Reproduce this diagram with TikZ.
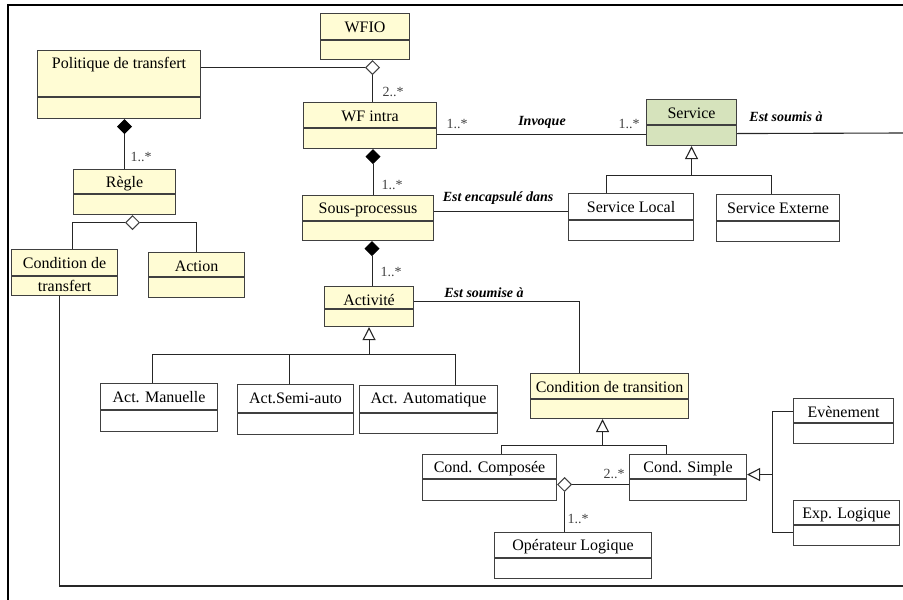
\documentclass[tikz,border=0pt]{standalone}
\usepackage{fontspec}
\setmainfont{Liberation Serif}
\usetikzlibrary{arrows.meta,shapes.geometric}
\definecolor{jaune}{RGB}{255,252,212}
\definecolor{vert}{RGB}{214,227,188}
\definecolor{trait}{RGB}{64,64,64}

\begin{document}
\begin{tikzpicture}[x=1pt,y=-1pt]
\tikzstyle{boite}=[draw=trait, line width=1.1pt, inner sep=0pt]
\tikzstyle{nom}=[font=\fontsize{16}{18}\selectfont, inner sep=1pt]
\tikzstyle{role}=[font=\fontsize{14}{16}\selectfont\bfseries\itshape, inner sep=1pt]
\tikzstyle{mult}=[font=\fontsize{14}{15}\selectfont, text=black!75, inner sep=1pt]
\tikzstyle{lien}=[draw=black!85, line width=1.1pt]
\tikzstyle{gen}=[lien, -{Triangle[open, length=13pt, width=13pt]}]
\tikzstyle{losange}=[diamond, draw=trait, line width=1pt, fill=white, minimum width=14pt, minimum height=14pt, inner sep=0pt]
\tikzstyle{losangeplein}=[losange, fill=black, draw=black]
\useasboundingbox (0,0) rectangle (903,600);
\draw[line width=2pt] (8,600) -- (8,5) -- (903,5);
% classes
\foreach \n/\x/\y/\w/\h/\dv/\col/\txt in {
	wfio/320/13/89/46/27/jaune/WFIO,
	politique/37/50/163/68/47/jaune/Politique de transfert,
	wfintra/303/102/133/46/26/jaune/WF intra,
	service/646/99/90/46/26/vert/Service,
	regle/73/169/102/45/25/jaune/Règle,
	sousproc/302/195/131/45/26/jaune/Sous-processus,
	servlocal/568/193/125/47/27/white/Service Local,
	servext/716/194/123/47/27/white/Service Externe,
	condtransfert/11/249/106/46/27/jaune/Condition de,
	action/148/252/96/45/25/jaune/Action,
	activite/324/286/89/40/23/jaune/Activité,
	actman/100/383/117/48/27/white/Act. Manuelle,
	actsemi/237/384/116/50/29/white/Act.Semi-auto,
	actauto/359/385/138/48/28/white/Act. Automatique,
	condtransition/530/373/158/45/26/jaune/Condition de transition,
	condcomp/422/454/134/46/25/white/Cond. Composée,
	condsimple/629/454/117/46/25/white/Cond. Simple,
	evenement/793/398/100/45/25/white/Evènement,
	explogique/793/500/106/45/25/white/Exp. Logique,
	operateur/494/532/157/46/26/white/Opérateur Logique}{
	\node[boite, fill=\col, minimum width=\w*1pt, minimum height=\h*1pt, anchor=north west] (\n) at (\x,\y) {};
	\draw[boite] ([yshift=-\dv*1pt]\n.north west) -- ([yshift=-\dv*1pt]\n.north east);
	\node[nom] (\n-t) at ([yshift=-14.5pt]\n.north) {\txt};}
\node[nom] (condtransfert-b) at ([yshift=10pt]condtransfert.south) {transfert};
% aggregations
\node[losange, anchor=north] (agg1) at ([xshift=2.5pt]wfintra.north |- wfio.south) {};
\draw[lien] (agg1.west -| politique.east) -- (agg1.west);
\draw[lien] (agg1.south) -- (agg1.south |- wfintra.north);
\node[losangeplein, anchor=north] (comp1) at (regle.north |- politique.south) {};
\draw[lien] (comp1.south) -- (regle.north);
\node[losangeplein, anchor=north] (comp2) at ([xshift=3pt]wfintra.south) {};
\draw[lien] (comp2.south) -- (comp2.south |- sousproc.north);
\node[losangeplein, anchor=north] (comp3) at ([xshift=3pt]activite.north |- sousproc.south) {};
\draw[lien] (comp3.south) -- (comp3.south |- activite.north);
\node[losange, anchor=north] (agg2) at ([xshift=8pt]regle.south) {};
\draw[lien] ([xshift=8pt]condtransfert.north) |- (agg2.west);
\draw[lien] (agg2.east) -| (action.north);
\node[losange, anchor=west] (agg3) at ([yshift=-7pt]condcomp.east) {};
\draw[lien] (agg3.east) -- (agg3.east -| condsimple.west);
\draw[lien] (agg3.south) -- (agg3.south |- operateur.north);
% associations
\coordinate (bord1) at (903,133);
\coordinate (bord2) at (903,586);
\draw[lien] ([yshift=-9pt]wfintra.east) -- ([yshift=-9pt]wfintra.east -| service.west);
\draw[lien] ([yshift=-11pt]service.east) -- (bord1);
\draw[lien] ([yshift=6.5pt]sousproc.east) -- ([yshift=6.5pt]sousproc.east -| servlocal.west);
\draw[lien] ([yshift=5pt]activite.east) -| ([xshift=-30pt]condtransition.north);
\draw[lien] ([xshift=-5pt]condtransfert.south) |- (bord2);
% heritages
\coordinate (bus1) at ([yshift=-29pt]service.south);
\draw[gen] (bus1) -- (service.south);
\draw[lien] ([xshift=-24.5pt]servlocal.north) |- (bus1) -| ([xshift=-6.5pt]servext.north);
\coordinate (bus2) at ([yshift=-27pt]activite.south);
\draw[gen] (bus2) -- (activite.south);
\draw[lien] ([xshift=-6.5pt]actman.north) |- (bus2) -| ([xshift=27pt]actauto.north);
\draw[lien] ([xshift=-6pt]actsemi.north) -- ([xshift=-6pt]actsemi.north |- bus2);
\coordinate (bus3) at ([xshift=-7pt,yshift=-26pt]condtransition.south);
\draw[gen] (bus3) -- ([xshift=-7pt]condtransition.south);
\draw[lien] ([xshift=12pt]condcomp.north) |- (bus3) -| ([xshift=-21.5pt]condsimple.north);
\coordinate (bus4) at ([xshift=25pt,yshift=3pt]condsimple.east);
\draw[gen] (bus4) -- ([yshift=3pt]condsimple.east);
\draw[lien] ([yshift=9.5pt]evenement.west) -| (bus4) |- ([yshift=-9.5pt]explogique.west);
% etiquettes
\node[mult] (m1) at (393,92) {2..*};
\node[mult] (m2) at (141,157) {1..*};
\node[mult] (m3) at (392,185) {1..*};
\node[mult] (m4) at (391,272) {1..*};
\node[mult] (m5) at (457,124) {1..*};
\node[mult] (m6) at (629,124) {1..*};
\node[mult] (m7) at (614,474) {2..*};
\node[mult] (m8) at (578,519) {1..*};
\node[role] (r1) at (542,122) {Invoque};
\node[role] (r2) at (786,117) {Est soumis à};
\node[role] (r3) at (498,198) {Est encapsulé dans};
\node[role] (r4) at (484,293) {Est soumise à};
\end{tikzpicture}
\end{document}
